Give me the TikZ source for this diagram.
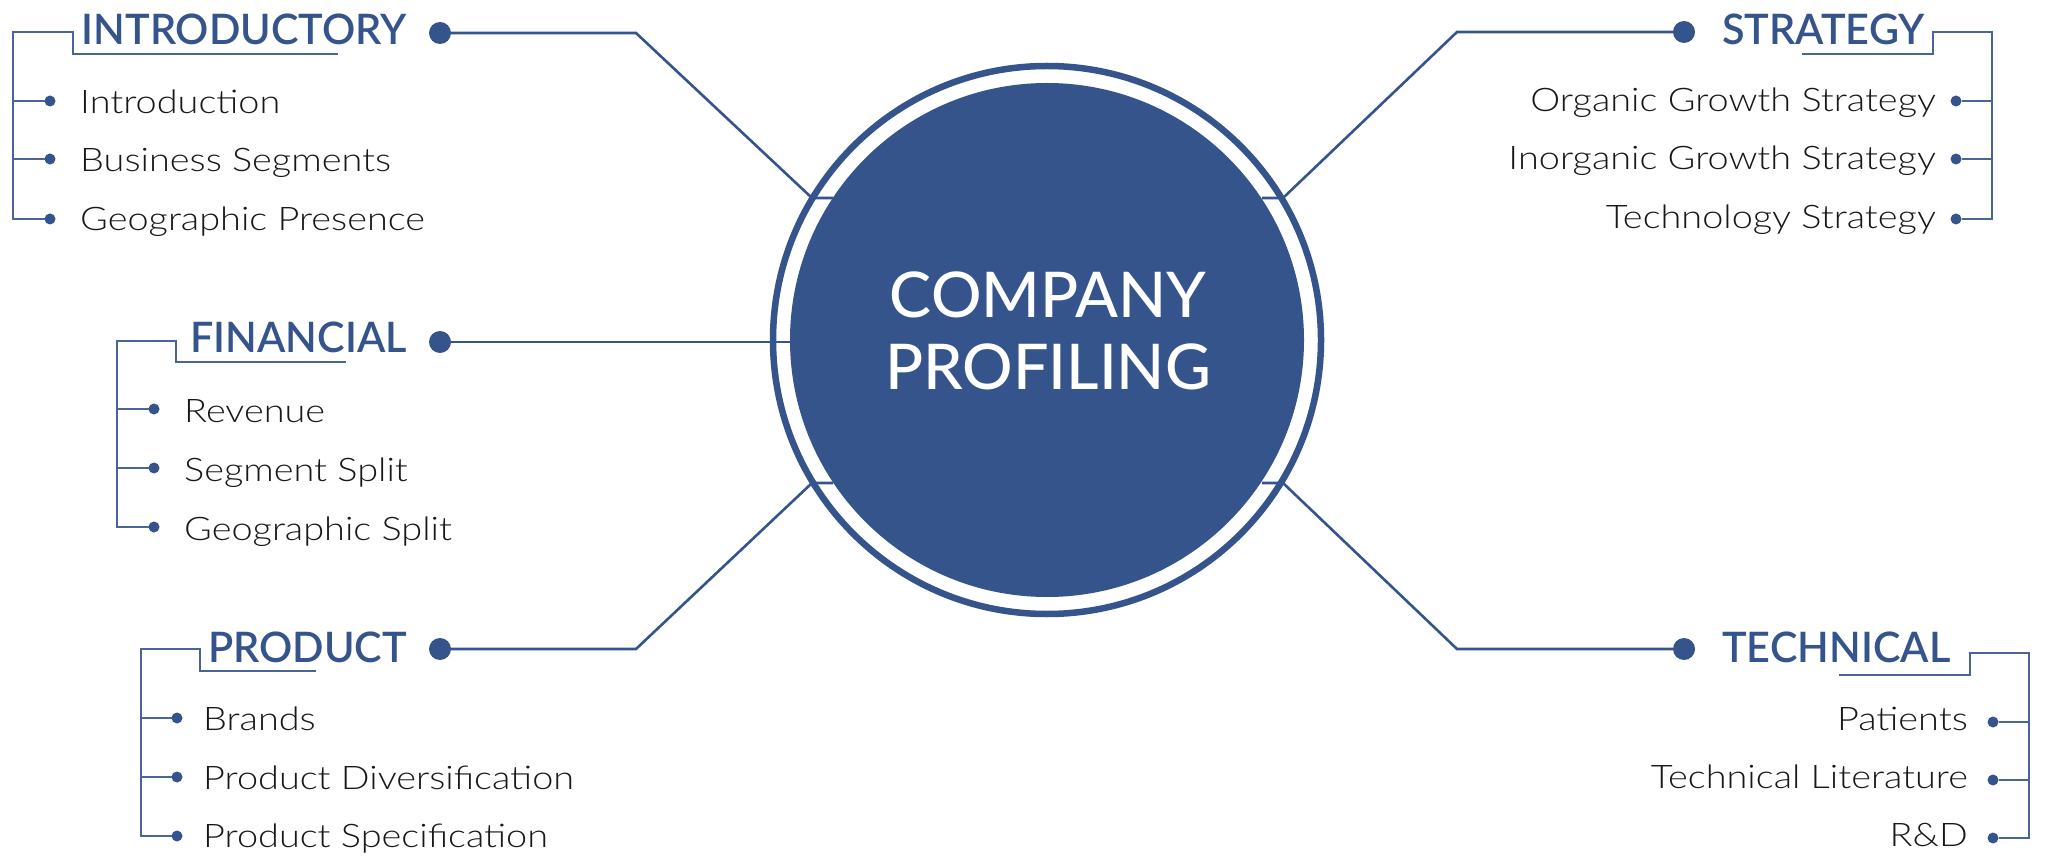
\documentclass[tikz,border=0pt]{standalone}
\usepackage{fontspec}
\setmainfont{Lato}
\newfontfamily\cpLightFam[FakeStretch=1.165]{Lato Light}
\newfontfamily\cpSemiFam[FakeStretch=0.985]{Lato Semibold}
\newfontfamily\cpMedFam{Lato Medium}
\usetikzlibrary{calc}
\definecolor{cpblue}{RGB}{53,84,140}
\definecolor{cptext}{RGB}{24,24,24}
\newcommand\cpHead{\cpSemiFam\fontsize{42}{50}\selectfont}
\newcommand\cpItem{\cpLightFam\fontsize{32.5}{38}\selectfont}
\newcommand\cpCenter{\cpMedFam\fontsize{63}{72}\selectfont}
\tikzset{
  conn/.style={draw=cpblue, line width=2.6pt},
  brk/.style={draw=cpblue!90, line width=1.8pt},
  hdot/.style={circle, fill=cpblue, minimum size=22pt, inner sep=0pt, outer sep=0pt},
  bul/.style={circle, fill=cpblue, minimum size=11pt, inner sep=0pt, outer sep=0pt},
  head/.style={text=cpblue, font=\cpHead, inner sep=0pt},
  item/.style={text=cptext, font=\cpItem, inner sep=0pt},
  ctext/.style={text=white, font=\cpCenter, inner sep=0pt, anchor=base}
}
\begin{document}
\begin{tikzpicture}[x=1pt,y=-1pt]
\useasboundingbox (0,0) rectangle (2048,858);
\fill[white] (0,0) rectangle (2048,858);

% ---------- centre ----------
\node[circle, fill=cpblue, minimum size=514pt, inner sep=0pt] (core) at (1047,340) {};
\node[circle, draw=cpblue, line width=6.5pt, minimum size=548pt, inner sep=0pt] (ring) at (1047,340) {};
\node[ctext] (ct1) at (1048,318) {COMPANY};
\node[ctext] (ct2) at (1048,390) {PROFILING};

% ---------- INTRODUCTORY ----------
\node[head, anchor=base east] (iHead) at (407,45) {INTRODUCTORY};
\node[hdot] (iDot) at (440,33) {};
\coordinate (iK) at (636,33);
\coordinate (iR) at (812,198);
\coordinate (iE) at (833,198);
\draw[conn] (iDot) -- (iK) -- (iR) -- (iE);
\coordinate (iTop) at (13,32);
\coordinate (iSa) at (73,32);
\coordinate (iSb) at (73,54);
\coordinate (iU) at (338,54);
\node[bul] (i1) at (50,101) {};
\node[bul] (i2) at (50,159) {};
\node[bul] (i3) at (50,219) {};
\node[item, anchor=base west] (i1t) at (80,114) {Introduction};
\node[item, anchor=base west] (i2t) at (80,172) {Business Segments};
\node[item, anchor=base west] (i3t) at (80,231) {Geographic Presence};
\draw[brk] (iU) -- (iSb) -- (iSa) -- (iTop) |- (i3);
\draw[brk] (iTop |- i1) -- (i1);
\draw[brk] (iTop |- i2) -- (i2);

% ---------- FINANCIAL ----------
\node[head, anchor=base east] (fHead) at (407,353) {FINANCIAL};
\node[hdot] (fDot) at (440,342) {};
\coordinate (fE) at (790,342);
\draw[conn] (fDot) -- (fE);
\coordinate (fTop) at (117,341);
\coordinate (fSa) at (176,341);
\coordinate (fSb) at (176,362);
\coordinate (fU) at (346,362);
\node[bul] (f1) at (154,409) {};
\node[bul] (f2) at (154,468) {};
\node[bul] (f3) at (154,527) {};
\node[item, anchor=base west] (f1t) at (184,422) {Revenue};
\node[item, anchor=base west] (f2t) at (184,481) {Segment Split};
\node[item, anchor=base west] (f3t) at (184,540) {Geographic Split};
\draw[brk] (fU) -- (fSb) -- (fSa) -- (fTop) |- (f3);
\draw[brk] (fTop |- f1) -- (f1);
\draw[brk] (fTop |- f2) -- (f2);

% ---------- PRODUCT ----------
\node[head, anchor=base east] (pHead) at (407,662) {PRODUCT};
\node[hdot] (pDot) at (440,649) {};
\coordinate (pK) at (636,649);
\coordinate (pR) at (812,483);
\coordinate (pE) at (833,483);
\draw[conn] (pDot) -- (pK) -- (pR) -- (pE);
\coordinate (pTop) at (141,649);
\coordinate (pSa) at (200,649);
\coordinate (pSb) at (200,671);
\coordinate (pU) at (316,671);
\node[bul] (p1) at (177,718) {};
\node[bul] (p2) at (177,777) {};
\node[bul] (p3) at (177,836) {};
\node[item, anchor=base west] (p1t) at (203,730) {Brands};
\node[item, anchor=base west] (p2t) at (203,789) {Product Diversification};
\node[item, anchor=base west] (p3t) at (203,847) {Product Specification};
\draw[brk] (pU) -- (pSb) -- (pSa) -- (pTop) |- (p3);
\draw[brk] (pTop |- p1) -- (p1);
\draw[brk] (pTop |- p2) -- (p2);

% ---------- STRATEGY ----------
\node[head, anchor=base west] (sHead) at (1722,45) {STRATEGY};
\node[hdot] (sDot) at (1684,32) {};
\coordinate (sK) at (1457,32);
\coordinate (sR) at (1283,198);
\coordinate (sE) at (1262,198);
\draw[conn] (sDot) -- (sK) -- (sR) -- (sE);
\coordinate (sTop) at (1992,32);
\coordinate (sSa) at (1933,32);
\coordinate (sSb) at (1933,54);
\coordinate (sU) at (1802,54);
\node[bul] (s1) at (1956,101) {};
\node[bul] (s2) at (1956,159) {};
\node[bul] (s3) at (1956,219) {};
\node[item, anchor=base east] (s1t) at (1936,112) {Organic Growth Strategy};
\node[item, anchor=base east] (s2t) at (1936,170) {Inorganic Growth Strategy};
\node[item, anchor=base east] (s3t) at (1936,229) {Technology Strategy};
\draw[brk] (sU) -- (sSb) -- (sSa) -- (sTop) |- (s3);
\draw[brk] (sTop |- s1) -- (s1);
\draw[brk] (sTop |- s2) -- (s2);

% ---------- TECHNICAL ----------
\node[head, anchor=base west] (tHead) at (1722,662) {TECHNICAL};
\node[hdot] (tDot) at (1684,649) {};
\coordinate (tK) at (1457,649);
\coordinate (tR) at (1283,483);
\coordinate (tE) at (1262,483);
\draw[conn] (tDot) -- (tK) -- (tR) -- (tE);
\coordinate (tTop) at (2029,653);
\coordinate (tSa) at (1970,653);
\coordinate (tSb) at (1970,675);
\coordinate (tU) at (1839,675);
\node[bul] (t1) at (1993,722) {};
\node[bul] (t2) at (1993,780) {};
\node[bul] (t3) at (1993,838) {};
\node[item, anchor=base east] (t1t) at (1968,730) {Patients};
\node[item, anchor=base east] (t2t) at (1968,788) {Technical Literature};
\node[item, anchor=base east] (t3t) at (1968,846) {R\&D};
\draw[brk] (tU) -- (tSb) -- (tSa) -- (tTop) |- (t3);
\draw[brk] (tTop |- t1) -- (t1);
\draw[brk] (tTop |- t2) -- (t2);
\end{tikzpicture}
\end{document}
